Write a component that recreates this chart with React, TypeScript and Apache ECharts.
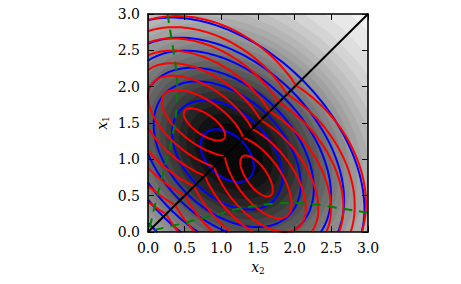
import React, { useEffect, useRef } from "react";
import * as echarts from "echarts";

// ---------- data ----------
const AXIS_MIN = 0;
const AXIS_MAX = 3;
const TICK_STEP = 0.5;
const TICK_LABELS = ["0.0", "0.5", "1.0", "1.5", "2.0", "2.5", "3.0"];

// grey background: elliptical density, [centre x2, centre x1], spread along anti-diagonal / diagonal
const GRAY_CENTER = [1.17, 1.1];
const GRAY_SPREAD = [1.36, 1.07];
// grey intensity of each filled band boundary (1 = white, 0 = black)
const GRAY_LEVELS = [
  0.97, 0.93, 0.89, 0.85, 0.81, 0.77, 0.73, 0.69, 0.65, 0.61, 0.57, 0.53,
  0.49, 0.45, 0.41, 0.37, 0.33, 0.29, 0.25, 0.21, 0.17, 0.13, 0.09, 0.05,
];

// blue contours: [centre x2, centre x1, semi-axis (major), semi-axis (minor), angle deg]
const BLUE_CONTOURS = [
  [1.08, 1.05, 0.43, 0.28, -45],
  [1.08, 1.06, 0.89, 0.58, -45],
  [1.08, 1.07, 1.19, 0.77, -45],
  [1.08, 1.08, 1.4, 0.91, -45],
  [1.08, 1.08, 1.68, 1.09, -45],
  [1.08, 1.08, 1.89, 1.23, -45],
  [1.08, 1.08, 2.22, 1.44, -45],
];

// red contours (upper triangle, mirrored across the diagonal)
const RED_CONTOURS = [
  [0.77, 1.48, 0.33, 0.14, -35],
  [0.75, 1.5, 0.66, 0.3, -36],
  [0.75, 1.5, 0.88, 0.46, -38],
  [0.76, 1.5, 1.06, 0.62, -39],
  [0.76, 1.49, 1.24, 0.8, -40],
  [0.77, 1.49, 1.4, 0.97, -41],
  [0.77, 1.48, 1.55, 1.14, -42],
  [0.77, 1.48, 1.69, 1.31, -42],
];

// green dashed curve (upper triangle), [x2, x1]; mirrored for the lower triangle
const GREEN_X2 = [0.265, 0.29, 0.33, 0.37, 0.395, 0.4, 0.38, 0.35, 0.3, 0.24, 0.19, 0.14, 0.09, 0.05, 0.02];
const GREEN_X1 = [3.0, 2.85, 2.6, 2.35, 2.1, 1.9, 1.6, 1.4, 1.15, 0.95, 0.75, 0.55, 0.35, 0.18, 0.03];

const DIAGONAL = [
  [0, 0],
  [3, 3],
];

// ---------- geometry helpers ----------
type P = number[];

function ellipsePts(e: number[], n = 200): P[] {
  const [cx, cy, a, b, ang] = e;
  const th = (ang * Math.PI) / 180;
  const c = Math.cos(th);
  const s = Math.sin(th);
  const pts: P[] = [];
  for (let i = 0; i <= n; i++) {
    const t = (2 * Math.PI * i) / n;
    const u = a * Math.cos(t);
    const v = b * Math.sin(t);
    pts.push([cx + u * c - v * s, cy + u * s + v * c]);
  }
  return pts;
}

// clip a polyline by half-plane f(p) >= 0 (f linear)
function clipLine(pts: P[], f: (p: P) => number, closed: boolean): P[][] {
  const runs: P[][] = [];
  let cur: P[] | null = null;
  for (let i = 0; i < pts.length; i++) {
    const p = pts[i];
    const fp = f(p);
    if (i > 0) {
      const q = pts[i - 1];
      const fq = f(q);
      if (fq >= 0 !== fp >= 0) {
        const t = fq / (fq - fp);
        const m = [q[0] + t * (p[0] - q[0]), q[1] + t * (p[1] - q[1])];
        if (cur) {
          cur.push(m);
          runs.push(cur);
          cur = null;
        } else {
          cur = [m];
        }
      }
    }
    if (fp >= 0) {
      if (!cur) cur = [];
      cur.push(p);
    }
  }
  if (cur) runs.push(cur);
  if (closed && runs.length > 1 && f(pts[0]) >= 0) {
    const last = runs.pop() as P[];
    runs[0] = last.concat(runs[0].slice(1));
  }
  return runs;
}

const BOX: ((p: P) => number)[] = [
  (p) => p[0] - AXIS_MIN,
  (p) => AXIS_MAX - p[0],
  (p) => p[1] - AXIS_MIN,
  (p) => AXIS_MAX - p[1],
];

function clipRuns(runs: P[][], fs: ((p: P) => number)[], closed: boolean): P[][] {
  let out = runs;
  fs.forEach((f, k) => {
    const next: P[][] = [];
    out.forEach((r) => clipLine(r, f, closed && k === 0 && out.length === 1).forEach((x) => next.push(x)));
    out = next;
  });
  return out.filter((r) => r.length > 1);
}

// Sutherland-Hodgman polygon clip
function clipPoly(pts: P[], fs: ((p: P) => number)[]): P[] {
  let out = pts;
  fs.forEach((f) => {
    const res: P[] = [];
    for (let i = 0; i < out.length; i++) {
      const p = out[i];
      const q = out[(i + 1) % out.length];
      const fp = f(p);
      const fq = f(q);
      if (fp >= 0) res.push(p);
      if (fp >= 0 !== fq >= 0) {
        const t = fp / (fp - fq);
        res.push([p[0] + t * (q[0] - p[0]), p[1] + t * (q[1] - p[1])]);
      }
    }
    out = res;
  });
  return out;
}

function grayHex(g: number) {
  const v = Math.max(0, Math.min(255, Math.round(g * 255)));
  const h = v.toString(16).padStart(2, "0");
  return "#" + h + h + h;
}

export default function App() {
  const ref = useRef<HTMLDivElement>(null);

  useEffect(() => {
    if (!ref.current) return;
    const chart = echarts.init(ref.current, undefined, { renderer: "svg" });

    const serif = "'DejaVu Serif', serif";

    const grayRender = (params: any, api: any) => {
      const children: any[] = [];
      const step = GRAY_LEVELS[0] - GRAY_LEVELS[1];
      GRAY_LEVELS.forEach((g) => {
        const r = Math.sqrt(-2 * Math.log(1 - g));
        const e = [GRAY_CENTER[0], GRAY_CENTER[1], r * GRAY_SPREAD[0], r * GRAY_SPREAD[1], -45];
        const poly = clipPoly(ellipsePts(e, 160).slice(0, -1), BOX);
        if (poly.length < 3) return;
        children.push({
          type: "polygon",
          shape: { points: poly.map((p) => api.coord(p)) },
          style: { fill: grayHex(g - step / 2), stroke: null },
          silent: true,
        });
      });
      return { type: "group", children };
    };

    const blueRender = (params: any, api: any) => {
      const e = BLUE_CONTOURS[params.dataIndex];
      const runs = clipRuns([ellipsePts(e)], BOX, true);
      return {
        type: "group",
        children: runs.map((r) => ({
          type: "polyline",
          shape: { points: r.map((p) => api.coord(p)) },
          style: { stroke: "#0000ff", lineWidth: 2, fill: null, lineJoin: "round" },
          silent: true,
        })),
      };
    };

    const redRender = (params: any, api: any) => {
      const e = RED_CONTOURS[params.dataIndex];
      const upper = clipRuns(clipLine(ellipsePts(e), (p) => p[1] - p[0], true), BOX, false);
      const lower = upper.map((r) => r.map((p) => [p[1], p[0]]));
      return {
        type: "group",
        children: upper.concat(lower).map((r) => ({
          type: "polyline",
          shape: { points: r.map((p) => api.coord(p)) },
          style: { stroke: "#ff0000", lineWidth: 2, fill: null, lineJoin: "round" },
          silent: true,
        })),
      };
    };

    const greenUpper = GREEN_X2.map((x, i) => [x, GREEN_X1[i]]);
    const greenLower = GREEN_X2.map((x, i) => [GREEN_X1[i], x]);

    const axisCommon = {
      type: "value",
      min: AXIS_MIN,
      max: AXIS_MAX,
      interval: TICK_STEP,
      z: 10,
      splitLine: { show: false },
      axisLine: { show: true, onZero: false, lineStyle: { color: "#000", width: 1.6 } },
      axisTick: { show: true, inside: true, length: 6, lineStyle: { color: "#000", width: 1 } },
    };
    const label = {
      color: "#000",
      fontFamily: serif,
      fontSize: 14,
      formatter: (v: number) => TICK_LABELS[Math.round((v - AXIS_MIN) / TICK_STEP)],
    };
    const nameRich = {
      i: { fontFamily: serif, fontStyle: "italic", fontSize: 14, color: "#000", lineHeight: 16 },
      s: { fontFamily: serif, fontSize: 9, color: "#000", lineHeight: 16, verticalAlign: "bottom", padding: [6, 0, 0, 0] },
    };

    chart.setOption({
      animation: false,
      backgroundColor: "#ffffff",
      grid: { left: 148, top: 14, width: 220, height: 218, containLabel: false },
      xAxis: [
        {
          ...axisCommon,
          position: "bottom",
          axisLabel: { ...label, margin: 9 },
          name: "{i|x}{s|2}",
          nameLocation: "middle",
          nameGap: 27,
          nameTextStyle: { rich: nameRich },
        },
        { ...axisCommon, position: "top", axisLabel: { show: false } },
      ],
      yAxis: [
        {
          ...axisCommon,
          position: "left",
          axisLabel: { ...label, margin: 8 },
          name: "{i|x}{s|1}",
          nameLocation: "middle",
          nameGap: 38,
          nameRotate: 90,
          nameTextStyle: { rich: nameRich },
        },
        { ...axisCommon, position: "right", axisLabel: { show: false } },
      ],
      series: [
        {
          type: "custom",
          renderItem: grayRender,
          data: [[0, 0]],
          xAxisIndex: 0,
          yAxisIndex: 0,
          silent: true,
          z: 1,
        },
        {
          type: "custom",
          renderItem: blueRender,
          data: BLUE_CONTOURS.map(() => [0, 0]),
          xAxisIndex: 0,
          yAxisIndex: 0,
          silent: true,
          z: 2,
        },
        {
          type: "custom",
          renderItem: redRender,
          data: RED_CONTOURS.map(() => [0, 0]),
          xAxisIndex: 0,
          yAxisIndex: 0,
          silent: true,
          z: 3,
        },
        {
          type: "line",
          data: greenUpper,
          smooth: 0.3,
          symbol: "none",
          lineStyle: { color: "#008000", width: 2, type: [9, 7] },
          silent: true,
          z: 4,
        },
        {
          type: "line",
          data: greenLower,
          smooth: 0.3,
          symbol: "none",
          lineStyle: { color: "#008000", width: 2, type: [9, 7] },
          silent: true,
          z: 4,
        },
        {
          type: "line",
          data: DIAGONAL,
          symbol: "none",
          lineStyle: { color: "#000000", width: 2 },
          silent: true,
          z: 5,
        },
      ],
    });

    return () => chart.dispose();
  }, []);

  return (
    <div
      ref={ref}
      style={{ position: "fixed", left: 0, top: 0, width: 461, height: 284 }}
    />
  );
}
